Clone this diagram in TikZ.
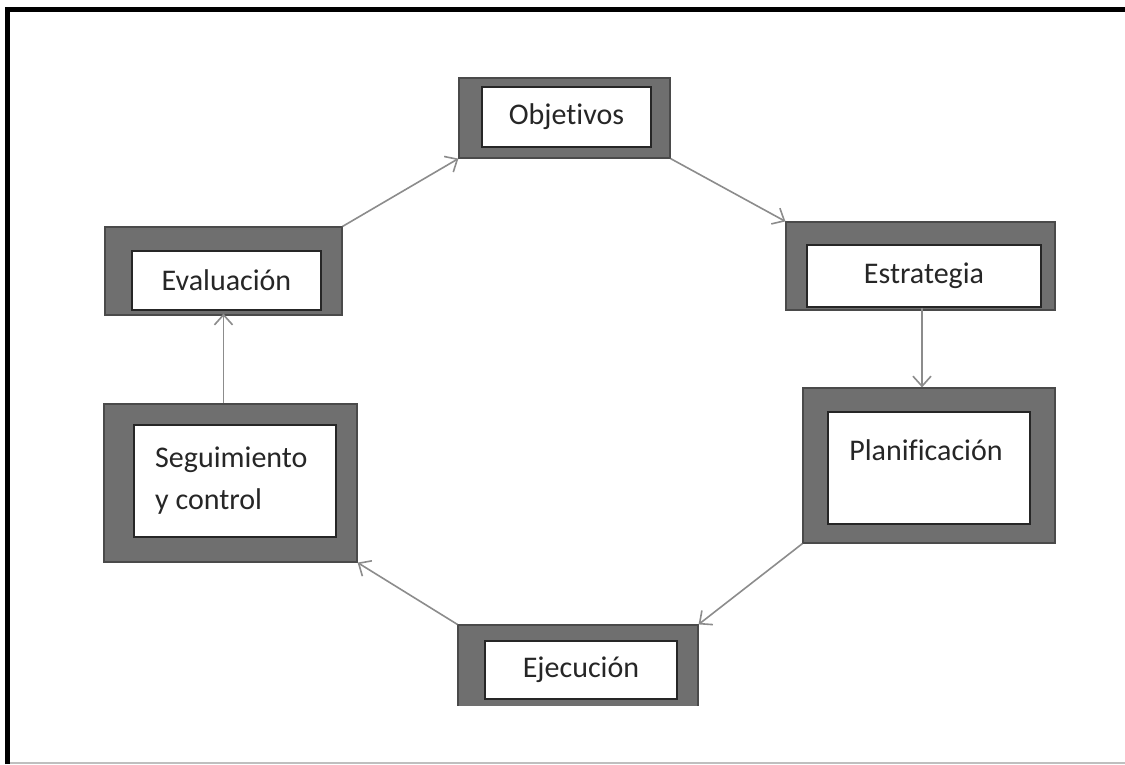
\documentclass[tikz,border=0pt]{standalone}
\usepackage{fontspec}
\setmainfont{Carlito}[Ligatures={NoCommon}]
\usetikzlibrary{arrows.meta}
\definecolor{framegray}{HTML}{6F6F6F}
\definecolor{edgegray}{HTML}{4A4A4A}
\definecolor{linkgray}{HTML}{8C8C8C}
\definecolor{textgray}{HTML}{262626}
\tikzset{
  outerbox/.style={draw=edgegray, line width=1.2pt, fill=framegray, inner sep=0pt},
  innerbox/.style={draw=black!85, line width=2.2pt, fill=white, inner sep=0pt,
    font=\fontsize{30}{36}\selectfont, text=textgray},
  label/.style={inner sep=0pt, font=\fontsize{30}{36}\selectfont, text=textgray},
  link/.style={draw=linkgray, line width=1.6pt,
    -{Straight Barb[length=10pt,width=18pt,line width=1.6pt]}},
}
\begin{document}
\begin{tikzpicture}[x=1pt,y=-1pt]
\useasboundingbox (0,0) rectangle (1125,764);
\fill[white] (0,0) rectangle (1125,764);

% page frame: top and left edges, faint bottom edge
\draw[black, line width=5pt] (7.5,764) -- (7.5,9.5) -- (1125,9.5);
\draw[black!25, line width=2pt] (10,762.5) -- (1125,762.5);

% Objetivos
\node[outerbox, minimum width=211pt, minimum height=80pt] (objO) at (564.5,118) {};
\node[innerbox, minimum width=169pt, minimum height=60pt] (objI) at (566.5,117) {Objetivos};

% Estrategia
\node[outerbox, minimum width=269pt, minimum height=88pt] (estO) at (920.5,266) {};
\node[innerbox, minimum width=234pt, minimum height=62pt] (estI) at (924,276) {Estrategia};

% Planificacion
\node[outerbox, minimum width=252pt, minimum height=155pt] (planO) at (929,465.5) {};
\node[innerbox, minimum width=202pt, minimum height=112pt] (planI) at (929,468) {};
\node[label] (planT) at (926,450) {Planificación};

% Ejecucion (cut off by the lower edge of the figure area)
\begin{scope}
  \clip (0,0) rectangle (1125,705);
  \node[outerbox, minimum width=240pt, minimum height=100pt] (ejeO) at (578,675) {};
  \node[innerbox, minimum width=192pt, minimum height=58pt] (ejeI) at (581,670) {Ejecución};
\end{scope}

% Seguimiento y control
\node[outerbox, minimum width=253pt, minimum height=158pt] (segO) at (230.5,483) {};
\node[innerbox, minimum width=202pt, minimum height=112pt] (segI) at (235,481) {};
\node[label, align=left, anchor=west, font=\fontsize{30}{42}\selectfont] (segT) at (155,481) {Seguimiento\\y control};

% Evaluacion
\node[outerbox, minimum width=237pt, minimum height=88pt] (evalO) at (223.5,271) {};
\node[innerbox, minimum width=189pt, minimum height=59pt] (evalI) at (226.5,280.5) {Evaluación};

% cycle connectors
\draw[link] (evalO.north east) -- (objO.south west);
\draw[link] (objO.south east) -- (estO.north west);
\draw[link] ([xshift=1.5pt,yshift=3pt]estO.south) -- ([xshift=1.5pt]estO.south |- planO.north);
\draw[link] (planO.south west) -- (ejeO.north east);
\draw[link] (ejeO.north west) -- (segO.south east);
\draw[link] (evalO.south |- segO.north) -- ([yshift=2pt]evalO.south);
\end{tikzpicture}
\end{document}
